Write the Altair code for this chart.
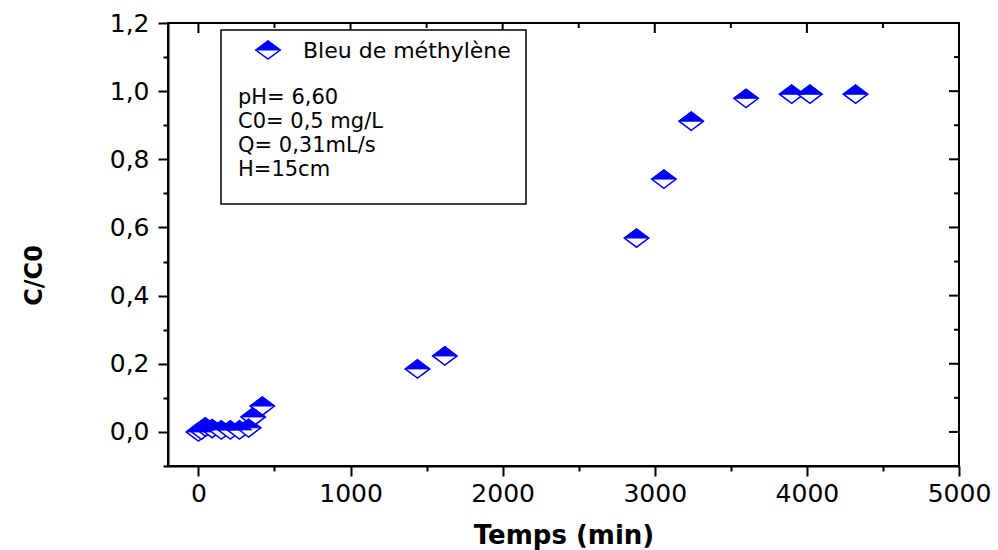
import altair as alt
import pandas as pd

# data
temps = [0, 20, 45, 90, 150, 210, 270, 330, 360, 420, 1440, 1620,
         2880, 3060, 3240, 3600, 3900, 4020, 4320]
c_c0 = [0.0, 0.005, 0.015, 0.01, 0.006, 0.006, 0.006, 0.012, 0.044, 0.076,
        0.185, 0.223, 0.569, 0.742, 0.912, 0.979, 0.991, 0.991, 0.991]

x_major = [0, 1000, 2000, 3000, 4000, 5000]
x_minor = [500, 1500, 2500, 3500, 4500]
y_major = [0.0, 0.2, 0.4, 0.6, 0.8, 1.0, 1.2]
y_minor = [-0.1, 0.1, 0.3, 0.5, 0.7, 0.9, 1.1]

legend_label = "Bleu de méthylène"
info_lines = ["pH= 6,60", "C0= 0,5 mg/L", "Q= 0,31mL/s", "H=15cm"]

W, H = 791, 443
BLUE = "#0000FF"
FONT = "DejaVu Sans"

df = pd.DataFrame({"t": temps, "c": c_c0})

xscale = alt.Scale(domain=[-200, 5000], nice=False, zero=False)
yscale = alt.Scale(domain=[-0.1, 1.2], nice=False, zero=False)

DIAMOND = "M-1,0L0,-0.75L1,0L0,0.75Z"
TOPHALF = "M-1,0L0,-0.75L1,0Z"

x_axis = alt.Axis(
    values=sorted(x_major + x_minor),
    labelExpr="datum.value % 1000 == 0 ? format(datum.value, 'd') : ''",
    tickSize={"condition": {"test": "datum.value % 1000 == 0", "value": 10}, "value": 5},
    title="Temps (min)", titleFont=FONT, titleFontSize=26, titleFontWeight="bold",
    titleY=77, titleBaseline="alphabetic", titleColor="black",
    labelFont=FONT, labelFontSize=25, labelColor="black", labelPadding=5,
    labelFlush=False, labelOverlap=False, grid=False,
    domainColor="black", domainWidth=2, tickColor="black", tickWidth=2,
)
y_axis = alt.Axis(
    values=sorted(y_major + y_minor),
    labelExpr="abs(round(datum.value*10)) % 2 == 0 ? replace(format(datum.value, '.1f'), '.', ',') : ''",
    tickSize={"condition": {"test": "abs(round(datum.value*10)) % 2 == 0", "value": 10}, "value": 5},
    title="C/C0", titleFont=FONT, titleFontSize=24, titleFontWeight="bold",
    titleAngle=-90, titleX=-134, titleY=252, titleAlign="center", titleBaseline="middle",
    titleColor="black",
    labelFont=FONT, labelFontSize=25, labelColor="black", labelPadding=9,
    labelFlush=False, labelOverlap=False, grid=False,
    domainColor="black", domainWidth=2, tickColor="black", tickWidth=2,
)

outline = alt.Chart(df).mark_point(
    shape=DIAMOND, size=600, filled=True, fill="white", stroke=BLUE,
    strokeWidth=1.5, opacity=1,
).encode(
    x=alt.X("t:Q", scale=xscale, axis=x_axis),
    y=alt.Y("c:Q", scale=yscale, axis=y_axis),
)
tops = alt.Chart(df).mark_point(
    shape=TOPHALF, size=600, filled=True, fill=BLUE, stroke=BLUE,
    strokeWidth=1, opacity=1,
).encode(
    x=alt.X("t:Q", scale=xscale, axis=x_axis),
    y=alt.Y("c:Q", scale=yscale, axis=y_axis),
)

# inward ticks on top and right
def xticks(vals, length):
    return alt.Chart(pd.DataFrame({"t": vals})).mark_rule(
        color="black", strokeWidth=2).encode(
        x=alt.X("t:Q", scale=xscale, axis=x_axis),
        y=alt.value(0), y2=alt.value(length))

def yticks(vals, length):
    return alt.Chart(pd.DataFrame({"c": vals})).mark_rule(
        color="black", strokeWidth=2).encode(
        y=alt.Y("c:Q", scale=yscale, axis=y_axis),
        x=alt.value(W), x2=alt.value(W - length))

one = pd.DataFrame({"a": [0]})
box = alt.Chart(one).mark_rect(
    fill="white", stroke="black", strokeWidth=1.5).encode(
    x=alt.value(53), x2=alt.value(358), y=alt.value(7), y2=alt.value(181))

leg_out = alt.Chart(one).mark_point(
    shape=DIAMOND, size=600, filled=True, fill="white", stroke=BLUE,
    strokeWidth=1.5, opacity=1).encode(x=alt.value(100), y=alt.value(27))
leg_top = alt.Chart(one).mark_point(
    shape=TOPHALF, size=600, filled=True, fill=BLUE, stroke=BLUE,
    strokeWidth=1, opacity=1).encode(x=alt.value(100), y=alt.value(27))


def label(txt, x, y, size):
    return alt.Chart(pd.DataFrame({"s": [txt]})).mark_text(
        font=FONT, fontSize=size, align="left", baseline="alphabetic",
        color="black").encode(x=alt.value(x), y=alt.value(y), text="s:N")


texts = [label(legend_label, 135, 35, 22)]
for i, line in enumerate(info_lines):
    texts.append(label(line, 70, 81 + 24 * i, 21))

chart = alt.layer(
    outline, tops,
    xticks(x_major, 10), xticks(x_minor, 5), yticks(y_major, 10), yticks(y_minor, 5),
    box, leg_out, leg_top, *texts,
).properties(
    width=W, height=H,
    autosize=alt.AutoSizeParams(type="none"),
    padding={"left": 168, "top": 23, "right": 39, "bottom": 84},
    background="white",
).configure_view(stroke="black", strokeWidth=2)

chart.save("out.html", embed_options={"renderer": "svg", "actions": False})
